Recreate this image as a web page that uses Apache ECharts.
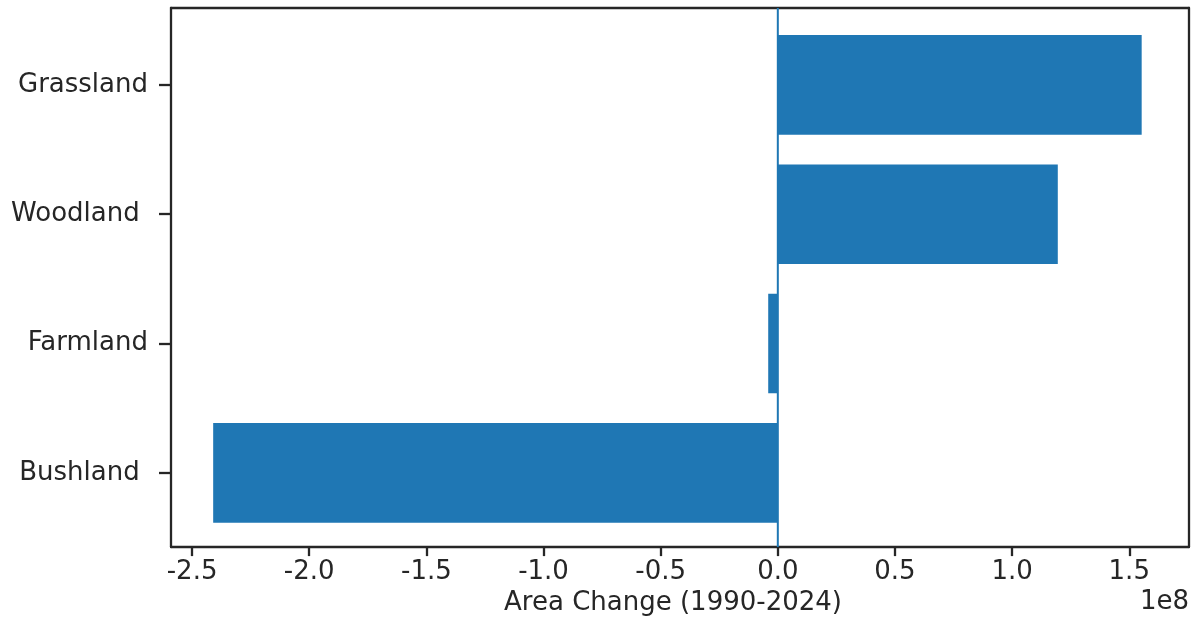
<!DOCTYPE html>
<html>
<head>
<meta charset="utf-8">
<script src="https://cdn.jsdelivr.net/npm/echarts@6/dist/echarts.min.js"></script>
<style>
html,body{margin:0;padding:0;background:#fff;}
#chart{width:1198px;height:621px;}
</style>
</head>
<body>
<div id="chart"></div>
<script>
// Data (bottom to top)
const categories = ['Bushland ', 'Farmland', 'Woodland ', 'Grassland'];
const areaChange = [-241000000, -4100000, 119500000, 155300000];
const xTickValues = [-250000000, -200000000, -150000000, -100000000, -50000000, 0, 50000000, 100000000, 150000000];
const xMin = -259000000;
const xMax = 175500000;
const axisTitle = 'Area Change (1990-2024)';
const offsetText = '1e8';

const FONT = 'DejaVu Sans';
const DARK = '#262626';
const BLUE = '#1f77b4';

const chart = echarts.init(document.getElementById('chart'), null, {renderer: 'canvas'});

const frameLine = {show: true, onZero: false, lineStyle: {color: DARK, width: 2.3}};

const option = {
  animation: false,
  backgroundColor: '#ffffff',
  grid: [
    {left: 171, right: 9, top: 8, bottom: 71},
    {left: 171, right: 9, top: 20.2, bottom: 83.5}
  ],
  xAxis: [
    {
      type: 'value', gridIndex: 0, position: 'bottom',
      min: xMin, max: xMax,
      splitLine: {show: false},
      axisLine: frameLine,
      axisTick: {show: true, length: 9, lineStyle: {color: DARK, width: 2.3}, customValues: xTickValues},
      axisLabel: {
        show: true, customValues: xTickValues, margin: 12,
        fontFamily: FONT, fontSize: 26, color: DARK,
        formatter: v => (v / 1e8).toFixed(1)
      },
      name: axisTitle, nameLocation: 'middle', nameGap: 40,
      nameTextStyle: {fontFamily: FONT, fontSize: 26, color: DARK, padding: [0, 14, 0, 0]}
    },
    {
      type: 'value', gridIndex: 0, position: 'top',
      min: xMin, max: xMax,
      splitLine: {show: false}, axisLine: frameLine,
      axisTick: {show: false}, axisLabel: {show: false}
    },
    {
      type: 'value', gridIndex: 1, min: xMin, max: xMax, show: false
    }
  ],
  yAxis: [
    {
      type: 'value', gridIndex: 0, position: 'left', min: 0, max: 1,
      splitLine: {show: false}, axisLine: frameLine,
      axisTick: {show: false}, axisLabel: {show: false}
    },
    {
      type: 'value', gridIndex: 0, position: 'right', min: 0, max: 1,
      splitLine: {show: false}, axisLine: frameLine,
      axisTick: {show: false}, axisLabel: {show: false}
    },
    {
      type: 'category', gridIndex: 1, position: 'left',
      data: categories,
      axisLine: {show: false, onZero: false},
      axisTick: {show: true, alignWithLabel: true, length: 12, lineStyle: {color: DARK, width: 2.3}},
      axisLabel: {fontFamily: FONT, fontSize: 26, color: DARK, margin: 23, padding: [5, 0, 0, 0]},
      splitLine: {show: false}
    }
  ],
  series: [
    {
      type: 'bar', xAxisIndex: 2, yAxisIndex: 2,
      data: areaChange,
      barWidth: '77%',
      itemStyle: {color: BLUE},
      z: 2
    },
    {
      type: 'line', xAxisIndex: 0, yAxisIndex: 0,
      data: [[0, 0], [0, 1]],
      symbol: 'none', silent: true,
      lineStyle: {color: BLUE, width: 2},
      z: 5
    }
  ],
  graphic: [
    {
      type: 'text', right: 9, top: 589,
      style: {text: offsetText, fontFamily: FONT, fontSize: 26, fill: DARK, align: 'right'}
    }
  ]
};

chart.setOption(option);
</script>
</body>
</html>
